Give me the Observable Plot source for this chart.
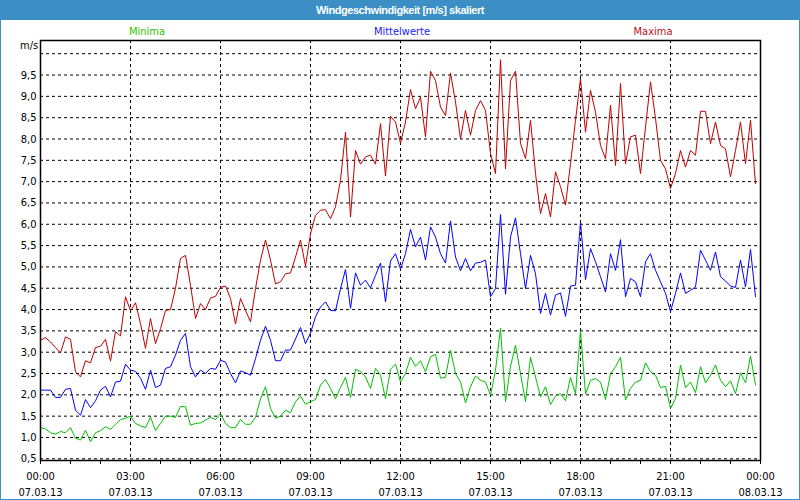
<!DOCTYPE html>
<html>
<head>
<meta charset="utf-8">
<script src="https://cdn.jsdelivr.net/npm/d3@7"></script>
<script src="https://cdn.jsdelivr.net/npm/@observablehq/plot@0.6"></script>
<style>
  html, body { margin: 0; padding: 0; background: #fff; }
  #win { position: relative; width: 800px; height: 500px; box-sizing: border-box;
         border-left: 1px solid #3b8fc5; border-right: 1px solid #3b8fc5; border-bottom: 1px solid #3b8fc5;
         font-family: Tahoma, "DejaVu Sans Condensed", "Liberation Sans", sans-serif; overflow: hidden; }
  #title { height: 20px; line-height: 20px; background: #3b8fc5; color: #fff; font-weight: bold;
           font-size: 11px; letter-spacing: -0.45px; text-align: center; font-family: "Liberation Sans", sans-serif; }
  .lbl { position: absolute; font-size: 11px; line-height: 12px; white-space: nowrap; transform: translateX(-50%); }
  #unit { position: absolute; left: 19px; top: 40px; font-size: 11px; line-height: 12px; color: #000; }
  #chart svg { display: block; }
</style>
</head>
<body>
<div id="win">
  <div id="title">Windgeschwindigkeit [m/s] skaliert</div>
  <div class="lbl" id="lgMin" style="left:146px; top:26px; color:#33c000;">Minima</div>
  <div class="lbl" id="lgMit" style="left:401px; top:26px; color:#2020ff;">Mittelwerte</div>
  <div class="lbl" id="lgMax" style="left:652px; top:26px; color:#c01020;">Maxima</div>
  <div id="unit">m/s</div>
  <div id="chart"></div>
</div>
<script>
// ---- data (10-minute values, 07.03.13 00:00 – 23:50) ----
const startTime = Date.UTC(2013, 2, 7, 0, 0);
const endTime = Date.UTC(2013, 2, 8, 0, 0);
const stepMinutes = 10;

const seriesNames = ["Minima", "Mittelwerte", "Maxima"];
const seriesColors = ["#00c000", "#0000ff", "#c00000"];

const maxima = [
  3.28, 3.34, 3.24, 3.11, 2.98, 3.36, 3.3, 2.54, 2.42, 2.8, 2.75, 3.11, 3.14, 3.3, 2.79, 3.48, 3.38, 4.3, 3.97, 4.16, 3.67, 3.09, 3.79, 3.2, 3.55,
  3.98, 4.0, 4.5, 5.2, 5.27, 4.57, 3.79, 4.14, 4.0, 4.27, 4.31, 4.52, 4.55, 4.26, 3.66, 4.26, 3.98, 3.71, 4.49, 5.16, 5.63, 5.16, 4.6, 4.65,
  4.84, 4.86, 5.23, 5.63, 5.02, 5.78, 6.21, 6.33, 6.34, 6.13, 6.41, 7.03, 8.16, 6.17, 7.73, 7.41, 7.58, 7.62, 7.41, 8.36, 7.13, 8.53, 8.4, 7.9,
  8.4, 9.16, 8.71, 8.98, 8.05, 9.59, 9.37, 8.75, 8.55, 9.55, 8.87, 8.0, 8.67, 8.09, 8.67, 8.9, 8.67, 7.66, 7.19, 9.86, 7.3, 9.37, 9.59, 7.9,
  7.54, 8.44, 7.19, 6.25, 6.72, 6.17, 7.23, 6.88, 6.45, 7.42, 8.44, 9.41, 8.16, 9.14, 8.63, 7.85, 7.54, 8.79, 7.38, 9.3, 7.42, 8.05, 8.09, 7.19,
  8.28, 9.34, 8.48, 7.5, 7.3, 6.84, 7.19, 7.73, 7.34, 7.73, 7.62, 8.65, 8.65, 7.89, 8.4, 7.85, 7.77, 7.11, 7.73, 8.4, 7.42, 8.44, 6.95
];
const mittelwerte = [
  2.11, 2.11, 2.11, 1.94, 1.94, 2.13, 2.15, 1.64, 1.52, 1.89, 1.7, 1.86, 2.11, 2.2, 1.95, 2.3, 2.32, 2.72, 2.58, 2.55, 2.39, 2.13, 2.58, 2.17, 2.23,
  2.62, 2.66, 2.93, 3.28, 3.44, 2.66, 2.42, 2.58, 2.5, 2.62, 2.6, 2.81, 2.77, 2.5, 2.28, 2.56, 2.52, 2.46, 2.85, 3.28, 3.61, 3.28, 2.8, 2.8,
  3.05, 3.05, 3.31, 3.58, 3.2, 3.45, 3.83, 4.06, 4.18, 3.98, 3.97, 4.49, 4.94, 4.03, 4.86, 4.57, 4.69, 4.51, 4.8, 5.09, 4.18, 5.14, 5.31, 4.95,
  5.31, 5.88, 5.47, 5.7, 5.16, 5.94, 5.7, 5.31, 5.09, 6.08, 5.23, 4.91, 5.2, 4.91, 5.09, 5.11, 5.16, 4.3, 4.49, 6.23, 4.36, 5.7, 6.15, 5.31,
  4.49, 5.27, 4.84, 3.91, 4.38, 3.87, 4.34, 4.39, 3.84, 4.55, 4.57, 6.05, 4.7, 5.43, 5.12, 4.77, 4.41, 5.31, 4.92, 5.64, 4.3, 4.73, 4.65, 4.3,
  5.12, 5.31, 4.92, 4.65, 4.38, 3.95, 4.38, 4.86, 4.38, 4.45, 4.53, 5.39, 5.16, 4.92, 5.35, 4.77, 4.67, 4.55, 4.52, 5.16, 4.53, 5.41, 4.3
];
const minima = [
  1.23, 1.2, 1.11, 1.08, 1.14, 1.11, 1.23, 0.98, 0.94, 1.17, 0.9, 1.11, 1.16, 1.25, 1.19, 1.31, 1.42, 1.45, 1.5, 1.33, 1.27, 1.23, 1.48, 1.16, 1.33,
  1.5, 1.5, 1.47, 1.73, 1.72, 1.29, 1.33, 1.34, 1.41, 1.47, 1.42, 1.56, 1.33, 1.23, 1.23, 1.42, 1.31, 1.31, 1.47, 1.91, 2.19, 1.68, 1.45, 1.5,
  1.64, 1.58, 1.84, 1.97, 1.78, 1.84, 1.89, 2.23, 2.36, 2.15, 1.91, 2.17, 2.41, 1.94, 2.6, 2.55, 2.42, 2.15, 2.62, 2.46, 1.91, 2.6, 2.72, 2.3,
  2.5, 2.88, 2.67, 2.8, 2.54, 2.89, 2.95, 2.39, 2.41, 3.05, 2.5, 2.3, 1.81, 2.19, 2.44, 2.34, 2.3, 1.99, 2.58, 3.56, 1.84, 2.67, 3.16, 2.5,
  1.84, 2.88, 2.42, 1.95, 2.19, 1.77, 1.97, 2.03, 1.86, 2.41, 2.02, 3.5, 2.02, 2.34, 2.38, 2.3, 1.89, 2.5, 2.66, 2.88, 1.88, 2.15, 2.3, 2.34,
  2.75, 2.54, 2.46, 2.17, 2.2, 1.68, 1.91, 2.7, 2.17, 2.3, 2.05, 2.66, 2.28, 2.46, 2.7, 2.34, 2.19, 2.33, 2.03, 2.52, 2.28, 2.91, 2.23
];

const yTickValues = [0.5, 1, 1.5, 2, 2.5, 3, 3.5, 4, 4.5, 5, 5.5, 6, 6.5, 7, 7.5, 8, 8.5, 9, 9.5];
const yGridValues = [0.5, 1, 1.5, 2, 2.5, 3, 3.5, 4, 4.5, 5, 5.5, 6, 6.5, 7, 7.5, 8, 8.5, 9, 9.5, 10];
const majorTickHours = [0, 3, 6, 9, 12, 15, 18, 21, 24];
const minorTickHours = d3.range(0, 25);

// ---- build table ----
const valueSets = [minima, mittelwerte, maxima];
const rows = [];
valueSets.forEach((vals, s) => {
  vals.forEach((v, i) => {
    rows.push({ series: seriesNames[s], time: new Date(startTime + i * stepMinutes * 60000), value: v });
  });
});
const hourDate = h => new Date(startTime + h * 3600000);
const fmtTime = d3.utcFormat("%H:%M");
const fmtDate = d3.utcFormat("%d.%m.%y");

const chart = Plot.plot({
  width: 798,
  height: 479,
  marginLeft: 39,
  marginRight: 39,
  marginTop: 20,
  marginBottom: 39,
  style: { fontFamily: 'Tahoma, "DejaVu Sans Condensed", "Liberation Sans", sans-serif', fontSize: "11px", color: "#000", background: "#fff" },
  x: { type: "utc", domain: [new Date(startTime), new Date(endTime)], label: null },
  y: { domain: [0.46, 10.31], label: null },
  color: { domain: seriesNames, range: seriesColors },
  marks: [
    Plot.gridY(yGridValues, { stroke: "#000", strokeOpacity: 1, strokeWidth: 1, strokeDasharray: "3,3" }),
    Plot.gridX(majorTickHours.map(hourDate), { stroke: "#000", strokeOpacity: 1, strokeWidth: 1, strokeDasharray: "3,3" }),
    Plot.line(rows, { x: "time", y: "value", z: "series", stroke: "series", strokeWidth: 1, curve: "linear" }),
    Plot.frame({ stroke: "#000", strokeWidth: 1.5 }),
    Plot.axisY(yTickValues, { tickSize: 0, tickPadding: 4, tickFormat: d => d.toFixed(1).replace(".", ","), fontSize: 11 }),
    Plot.axisX(minorTickHours.map(hourDate), {
      tickSize: 4, tickPadding: 5, lineHeight: 1.4, fontSize: 11,
      tickFormat: d => (d.getTime() - startTime) % (3 * 3600000) === 0 ? fmtTime(d) + "\n" + fmtDate(d) : ""
    })
  ]
});
document.getElementById("chart").appendChild(chart);
</script>
</body>
</html>
